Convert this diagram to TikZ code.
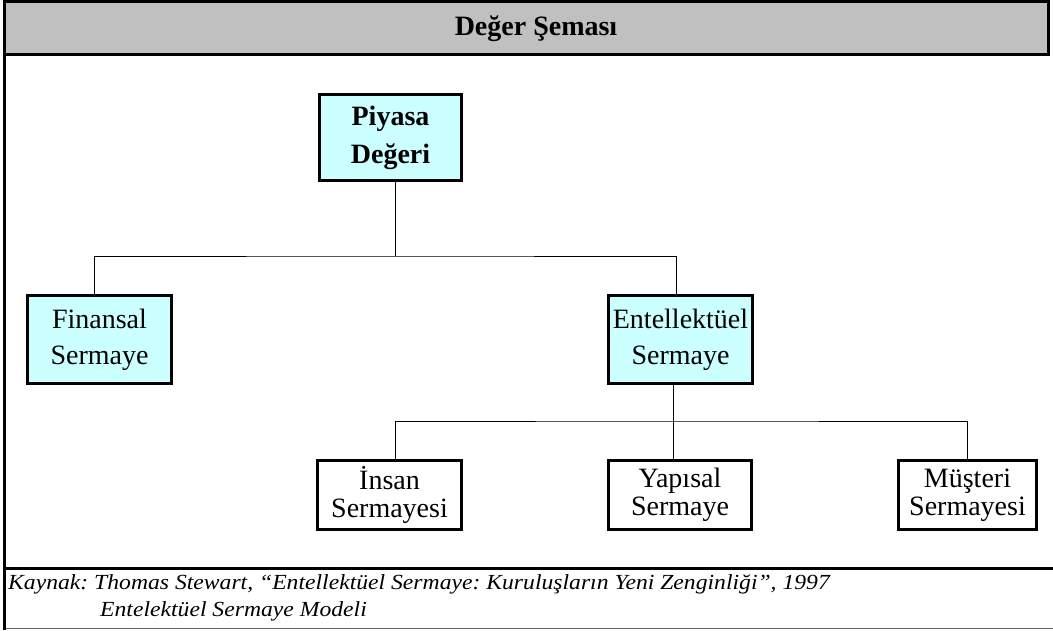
\documentclass[tikz,border=0pt]{standalone}
\usepackage{fontspec}
\setmainfont{Liberation Serif}
\newfontfamily\kaynakfont{Liberation Serif}[FakeStretch=1.1]
\usepackage{tikz}

\definecolor{acikmavi}{RGB}{204,255,255}
\definecolor{baslikgri}{RGB}{192,192,192}

\begin{document}
\frenchspacing
\begin{tikzpicture}[x=1pt,y=-1pt,
	kutu/.style={draw, line width=3pt, align=center, inner sep=0pt, fill=white, font=\fontsize{28}{36}\selectfont},
	anakutu/.style={kutu, fill=acikmavi},
	altkutu/.style={kutu, minimum height=69pt, font=\fontsize{28}{28}\selectfont},
	cizgi/.style={line width=1pt},
	kaynakyazi/.style={anchor=base west, inner sep=0pt, font=\fontsize{21.5}{26}\kaynakfont\itshape}]
	\useasboundingbox (0,0) rectangle (1053,630);
	% cerceve
	\filldraw [fill=baslikgri, line width=3pt] (4.5,1.5) rectangle (1048.5,54);
	\draw [line width=3pt] (4.5,54) -- (4.5,630);
	\draw [line width=3pt] (3,568.5) -- (1053,568.5);
	\draw [line width=1.5pt, black!60] (6,628.5) -- (1053,628.5);
	\node (baslik) at (536,29) {\fontsize{28}{33}\selectfont\bfseries Değer Şeması};
	% kutular
	\node [anakutu, minimum width=142pt, minimum height=86pt, font=\fontsize{28}{38}\selectfont] (piyasa) at (390.5,137.5) {\bfseries Piyasa\\\bfseries Değeri};
	\node [anakutu, minimum width=144pt, minimum height=88pt] (finansal) at (99.5,339.5) {Finansal\\Sermaye};
	\node [anakutu, minimum width=144pt, minimum height=88pt] (entel) at (680.5,339.5) {Entellektüel\\Sermaye};
	\node [altkutu, minimum width=144pt] (insan) at (389.5,495) {İnsan\\Sermayesi};
	\node [altkutu, minimum width=143pt] (yapisal) at (680,495) {Yapısal\\Sermaye};
	\node [altkutu, minimum width=138pt] (musteri) at (967.5,495) {Müşteri\\Sermayesi};
	% baglantilar
	\draw [cizgi] ([xshift=4.5pt]piyasa.south) -- ++(0,74) coordinate (dal1);
	\draw [cizgi] ([xshift=-5.5pt]finansal.north) |- (dal1) -| ([xshift=-4.5pt]entel.north);
	\draw [cizgi] ([xshift=-7.5pt]entel.south) -- ++(0,36) coordinate (dal2);
	\draw [cizgi] ([xshift=5.5pt]insan.north) |- (dal2) -| (musteri.north);
	\draw [cizgi] (dal2) -- ([xshift=-7pt]yapisal.north);
	% kaynak
	\node [kaynakyazi] (kaynak) at (8,589) {Kaynak: Thomas Stewart, “Entellektüel Sermaye: Kuruluşların Yeni Zenginliği”, 1997};
	\node [kaynakyazi] (model) at (100,616) {Entelektüel Sermaye Modeli};
\end{tikzpicture}
\end{document}
